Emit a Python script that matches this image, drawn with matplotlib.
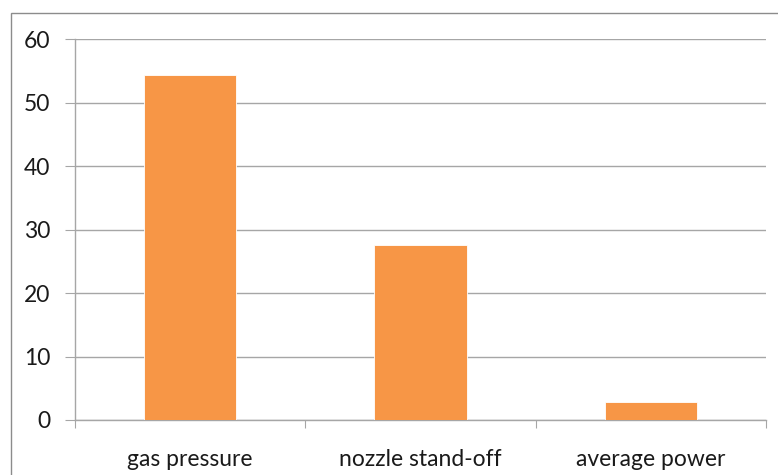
import matplotlib
matplotlib.use("Agg")
import matplotlib.pyplot as plt
from matplotlib.patches import Rectangle

categories = ["gas pressure", "nozzle stand-off", "average power"]
values = [54.4, 27.6, 2.9]
yticks = [0, 10, 20, 30, 40, 50, 60]

W, H = 778, 475
fig = plt.figure(figsize=(W / 100, H / 100), dpi=100)
plt.rcParams["font.family"] = ["Lato", "DejaVu Sans"]

# outer chart frame
fig.patches.append(Rectangle((11 / W, -0.05), 1.1, (H - 13) / H + 0.05,
                             transform=fig.transFigure, fill=False,
                             edgecolor="#8c8c8c", linewidth=1.0))

ax = fig.add_axes([75 / W, (H - 420) / H, (766 - 75) / W, (420 - 39.3) / H])
x = list(range(len(categories)))
ax.bar(x, values, width=0.4, color="#f79646", edgecolor="white", linewidth=0.6, zorder=3)

ax.set_xlim(-0.5, len(categories) - 0.5)
ax.set_ylim(0, 60)
ax.set_yticks(yticks)
ax.set_yticklabels([str(v) for v in yticks], fontsize=16.5)
ax.yaxis.grid(True, color="#a6a6a6", linewidth=1.0, zorder=0)
ax.set_xticks([i - 0.5 for i in range(len(categories) + 1)], minor=False)
ax.set_xticklabels([])
ax.set_xticks(x, minor=True)
ax.set_xticklabels(categories, minor=True, fontsize=16.5)
ax.tick_params(axis="x", which="minor", length=0, pad=21)
ax.tick_params(axis="x", which="major", length=6, color="#a6a6a6", direction="out")
ax.tick_params(axis="y", length=7, color="#a6a6a6", pad=11, direction="out")
for s in ["top", "right"]:
    ax.spines[s].set_visible(False)
for s in ["left", "bottom"]:
    ax.spines[s].set_color("#a6a6a6")
    ax.spines[s].set_linewidth(1.0)
for lbl in ax.get_yticklabels() + ax.get_xticklabels(minor=True):
    lbl.set_color("#1a1a1a")

fig.savefig("out.png", dpi=100)
